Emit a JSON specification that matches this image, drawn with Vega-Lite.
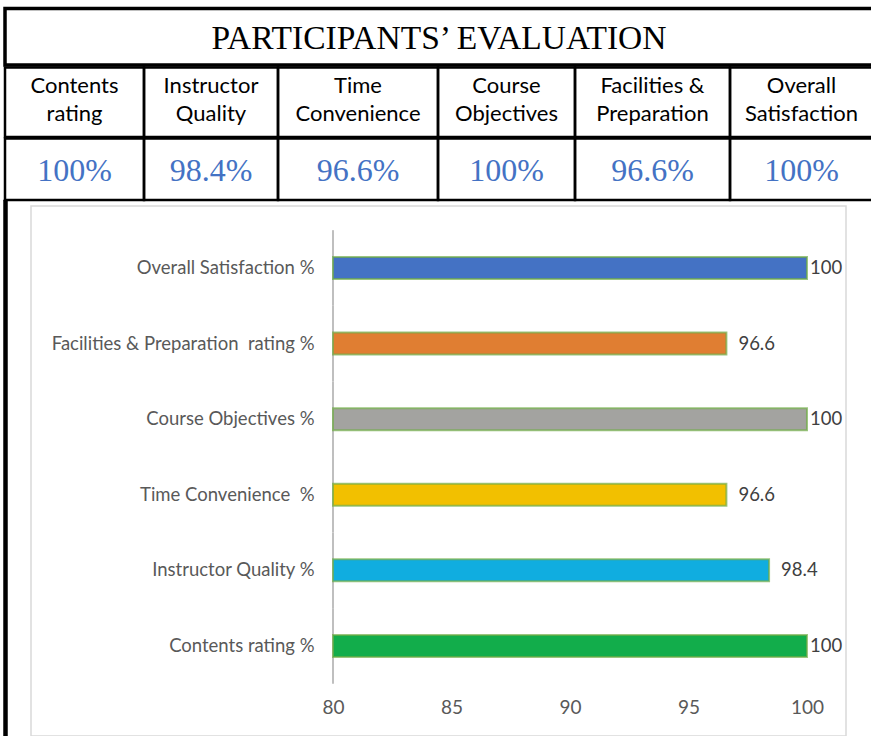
{
  "$schema": "https://vega.github.io/schema/vega-lite/v6.json",
  "padding": {"left": 3, "top": 6.5, "right": 0, "bottom": 0},
  "background": "white",
  "spacing": -6,
  "config": {
    "view": {"stroke": "black", "strokeWidth": 2.5},
    "axis": {"grid": false}
  },
  "datasets": {
    "table": [
      {"metric": "Contents rating", "header": "Contents\nrating", "shown": "100%"},
      {"metric": "Instructor Quality", "header": "Instructor\nQuality", "shown": "98.4%"},
      {"metric": "Time Convenience", "header": "Time\nConvenience", "shown": "96.6%"},
      {"metric": "Course Objectives", "header": "Course\nObjectives", "shown": "100%"},
      {"metric": "Facilities & Preparation", "header": "Facilities &\nPreparation", "shown": "96.6%"},
      {"metric": "Overall Satisfaction", "header": "Overall\nSatisfaction", "shown": "100%"}
    ],
    "bars": [
      {"cat": "Overall Satisfaction %", "value": 100},
      {"cat": "Facilities & Preparation\u00a0 rating %", "value": 96.6},
      {"cat": "Course Objectives %", "value": 100},
      {"cat": "Time Convenience\u00a0 %", "value": 96.6},
      {"cat": "Instructor Quality %", "value": 98.4},
      {"cat": "Contents rating %", "value": 100}
    ]
  },
  "vconcat": [
    {
      "width": 868,
      "height": 56.5,
      "data": {"values": [{"title": "PARTICIPANTS’ EVALUATION"}]},
      "view": {"stroke": "black", "strokeWidth": 3.5},
      "mark": {"type": "text", "font": "Liberation Serif", "fontSize": 33.5, "color": "black", "dy": 2.5},
      "encoding": {"text": {"field": "title"}}
    },
    {
      "bounds": "flush",
      "spacing": 0,
      "hconcat": [
        {"width": 139, "height": 69.5, "view": {"stroke": "black", "strokeWidth": 2.5}, "data": {"name": "table"}, "transform": [{"filter": "datum.metric === 'Contents rating'"}], "mark": {"type": "text", "font": "Lato", "fontSize": 22, "lineHeight": 28, "lineBreak": "\n", "color": "black", "dy": -16}, "encoding": {"text": {"field": "header"}}},
        {"width": 134, "height": 69.5, "view": {"stroke": "black", "strokeWidth": 2.5}, "data": {"name": "table"}, "transform": [{"filter": "datum.metric === 'Instructor Quality'"}], "mark": {"type": "text", "font": "Lato", "fontSize": 22, "lineHeight": 28, "lineBreak": "\n", "color": "black", "dy": -16}, "encoding": {"text": {"field": "header"}}},
        {"width": 160, "height": 69.5, "view": {"stroke": "black", "strokeWidth": 2.5}, "data": {"name": "table"}, "transform": [{"filter": "datum.metric === 'Time Convenience'"}], "mark": {"type": "text", "font": "Lato", "fontSize": 22, "lineHeight": 28, "lineBreak": "\n", "color": "black", "dy": -16}, "encoding": {"text": {"field": "header"}}},
        {"width": 137, "height": 69.5, "view": {"stroke": "black", "strokeWidth": 2.5}, "data": {"name": "table"}, "transform": [{"filter": "datum.metric === 'Course Objectives'"}], "mark": {"type": "text", "font": "Lato", "fontSize": 22, "lineHeight": 28, "lineBreak": "\n", "color": "black", "dy": -16}, "encoding": {"text": {"field": "header"}}},
        {"width": 155, "height": 69.5, "view": {"stroke": "black", "strokeWidth": 2.5}, "data": {"name": "table"}, "transform": [{"filter": "datum.metric === 'Facilities & Preparation'"}], "mark": {"type": "text", "font": "Lato", "fontSize": 22, "lineHeight": 28, "lineBreak": "\n", "color": "black", "dy": -16}, "encoding": {"text": {"field": "header"}}},
        {"width": 143, "height": 69.5, "view": {"stroke": "black", "strokeWidth": 2.5}, "data": {"name": "table"}, "transform": [{"filter": "datum.metric === 'Overall Satisfaction'"}], "mark": {"type": "text", "font": "Lato", "fontSize": 22, "lineHeight": 28, "lineBreak": "\n", "color": "black", "dy": -16}, "encoding": {"text": {"field": "header"}}}
      ]
    },
    {
      "bounds": "flush",
      "spacing": 0,
      "hconcat": [
        {"width": 139, "height": 61.5, "view": {"stroke": "black", "strokeWidth": 2.5}, "data": {"name": "table"}, "transform": [{"filter": "datum.metric === 'Contents rating'"}], "mark": {"type": "text", "font": "Liberation Serif", "fontSize": 32, "color": "#4472C4", "dy": 1.5}, "encoding": {"text": {"field": "shown"}}},
        {"width": 134, "height": 61.5, "view": {"stroke": "black", "strokeWidth": 2.5}, "data": {"name": "table"}, "transform": [{"filter": "datum.metric === 'Instructor Quality'"}], "mark": {"type": "text", "font": "Liberation Serif", "fontSize": 32, "color": "#4472C4", "dy": 1.5}, "encoding": {"text": {"field": "shown"}}},
        {"width": 160, "height": 61.5, "view": {"stroke": "black", "strokeWidth": 2.5}, "data": {"name": "table"}, "transform": [{"filter": "datum.metric === 'Time Convenience'"}], "mark": {"type": "text", "font": "Liberation Serif", "fontSize": 32, "color": "#4472C4", "dy": 1.5}, "encoding": {"text": {"field": "shown"}}},
        {"width": 137, "height": 61.5, "view": {"stroke": "black", "strokeWidth": 2.5}, "data": {"name": "table"}, "transform": [{"filter": "datum.metric === 'Course Objectives'"}], "mark": {"type": "text", "font": "Liberation Serif", "fontSize": 32, "color": "#4472C4", "dy": 1.5}, "encoding": {"text": {"field": "shown"}}},
        {"width": 155, "height": 61.5, "view": {"stroke": "black", "strokeWidth": 2.5}, "data": {"name": "table"}, "transform": [{"filter": "datum.metric === 'Facilities & Preparation'"}], "mark": {"type": "text", "font": "Liberation Serif", "fontSize": 32, "color": "#4472C4", "dy": 1.5}, "encoding": {"text": {"field": "shown"}}},
        {"width": 143, "height": 61.5, "view": {"stroke": "black", "strokeWidth": 2.5}, "data": {"name": "table"}, "transform": [{"filter": "datum.metric === 'Overall Satisfaction'"}], "mark": {"type": "text", "font": "Liberation Serif", "fontSize": 32, "color": "#4472C4", "dy": 1.5}, "encoding": {"text": {"field": "shown"}}}
      ]
    },
    {
      "bounds": "flush",
      "hconcat": [
        {
          "width": 1,
          "height": 539,
          "data": {"values": [{"t": ""}]},
          "view": {"stroke": "black", "strokeWidth": 3.5},
          "mark": {"type": "text"},
          "encoding": {"text": {"field": "t"}}
        },
        {
          "width": 815,
          "height": 530,
          "data": {"name": "bars"},
          "view": {"stroke": "#d9d9d9", "strokeWidth": 1.5},
          "encoding": {
            "y": {
              "field": "cat", "type": "nominal", "sort": null,
              "scale": {"paddingInner": 0.709, "paddingOuter": 0.86, "align": 0.392},
              "axis": {"title": null, "domain": false, "ticks": false, "offset": -302, "labelPadding": 19, "labelFont": "Lato", "labelFontSize": 18.5, "labelColor": "#595959", "labelLimit": 400}
            }
          },
          "layer": [
            {
              "mark": {"type": "tick", "orient": "vertical", "size": 75.6, "thickness": 2, "color": "#bfbfbf", "opacity": 1},
              "encoding": {"x": {"datum": 80, "type": "quantitative"}}
            },
            {
              "mark": {"type": "bar", "stroke": "#70AD47", "strokeWidth": 2, "strokeOpacity": 0.7},
              "encoding": {
                "x": {
                  "field": "value", "type": "quantitative",
                  "scale": {"domain": [67.257, 101.646], "nice": false, "zero": false},
                  "axis": {"values": [80, 85, 90, 95, 100], "title": null, "domain": false, "ticks": false, "grid": false, "offset": -38, "labelPadding": 0, "labelFlush": false, "labelFont": "Lato", "labelFontSize": 19, "labelColor": "#595959"}
                },
                "x2": {"datum": 80},
                "color": {
                  "field": "cat", "type": "nominal", "legend": null,
                  "scale": {
                    "domain": ["Overall Satisfaction %", "Facilities & Preparation\u00a0 rating %", "Course Objectives %", "Time Convenience\u00a0 %", "Instructor Quality %", "Contents rating %"],
                    "range": ["#4472C4", "#E07E32", "#A3A3A0", "#F2C000", "#10ADE0", "#12AD4B"]
                  }
                }
              }
            },
            {
              "transform": [{"filter": "datum.value < 100"}],
              "mark": {"type": "text", "align": "left", "dx": 12, "font": "Lato", "fontSize": 18.5, "color": "#404040"},
              "encoding": {
                "x": {"field": "value", "type": "quantitative"},
                "text": {"field": "value", "type": "quantitative", "format": ".1~f"}
              }
            },
            {
              "transform": [{"filter": "datum.value >= 100"}],
              "mark": {"type": "text", "align": "left", "dx": 3, "font": "Lato", "fontSize": 18.5, "color": "#404040"},
              "encoding": {
                "x": {"field": "value", "type": "quantitative"},
                "text": {"field": "value", "type": "quantitative", "format": ".1~f"}
              }
            }
          ]
        }
      ],
      "spacing": 25,
      "center": true
    }
  ]
}
